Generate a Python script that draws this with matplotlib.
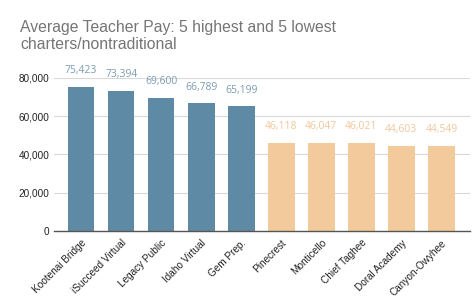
import matplotlib
matplotlib.use("Agg")
import matplotlib.pyplot as plt

# Data
schools = ["Kootenai Bridge", "iSucceed Virtual", "Legacy Public", "Idaho Virtual",
           "Gem Prep.", "Pinecrest", "Monticello", "Chief Taghee",
           "Doral Academy", "Canyon-Owyhee"]
pay = [75423, 73394, 69600, 66789, 65199, 46118, 46047, 46021, 44603, 44549]
group = ["high"] * 5 + ["low"] * 5

BAR_COLORS = {"high": "#5f8aa6", "low": "#f2ca9c"}
LABEL_COLORS = {"high": "#7b9cb5", "low": "#f0c89c"}

plt.rcParams["font.family"] = ["Liberation Sans", "DejaVu Sans"]

fig = plt.figure(figsize=(4.74, 3.07), dpi=100)
ax = fig.add_axes([0.114, 0.248, 0.878, 0.498])

x = range(len(schools))
ax.bar(x, pay, width=0.66, color=[BAR_COLORS[g] for g in group], zorder=3)

for i, (v, g) in enumerate(zip(pay, group)):
    ax.annotate(f"{v:,}", (i, v), xytext=(0, 11.5), textcoords="offset points",
                ha="center", va="center", fontsize=7.5, family=["Open Sans", "DejaVu Sans"],
                color=LABEL_COLORS[g], annotation_clip=False)

ax.set_ylim(0, 80000)
ax.set_xlim(-0.68, 9.72)
ax.set_yticks([0, 20000, 40000, 60000, 80000])
ax.set_yticklabels(["0", "20,000", "40,000", "60,000", "80,000"])
ax.set_xticks(list(x))
ax.set_xticklabels(schools, rotation=45, ha="right", rotation_mode="anchor")
ax.tick_params(axis="both", length=0, labelsize=7.2, colors="#222222")
ax.tick_params(axis="x", pad=5)
ax.tick_params(axis="y", pad=3.5)

ax.grid(axis="y", color="#d9d9d9", linewidth=0.8, zorder=0)
for s in ["top", "right", "left"]:
    ax.spines[s].set_visible(False)
ax.spines["bottom"].set_color("#555555")
ax.spines["bottom"].set_linewidth(1.0)
ax.spines["bottom"].set_zorder(4)

fig.text(0.042, 0.935, "Average Teacher Pay: 5 highest and 5 lowest\ncharters/nontraditional",
         ha="left", va="top", fontsize=11.3, color="#757575", linespacing=1.2)

fig.savefig("out.png", dpi=100)
